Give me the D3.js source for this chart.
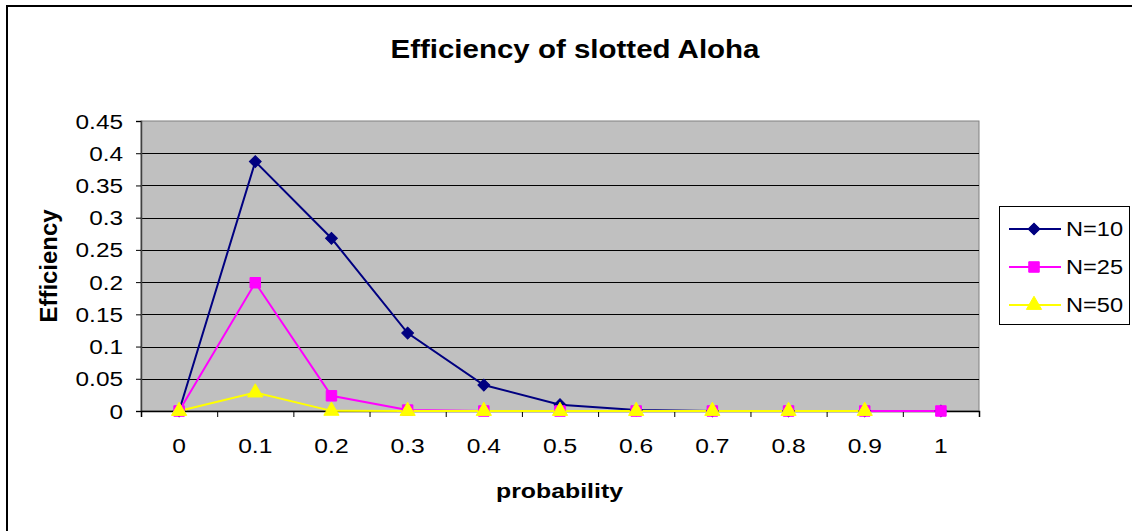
<!DOCTYPE html>
<html>
<head>
<meta charset="utf-8">
<script src="https://cdn.jsdelivr.net/npm/d3@7/dist/d3.min.js"></script>
<style>
  html, body { margin: 0; padding: 0; background: #fff; }
  svg { display: block; font-family: Arial, "Liberation Sans", sans-serif; }
</style>
</head>
<body>
<svg id="chart" width="1132" height="531"></svg>
<script>
// ---- data ----
const categories = ["0", "0.1", "0.2", "0.3", "0.4", "0.5", "0.6", "0.7", "0.8", "0.9", "1"];
const seriesNames = ["N=10", "N=25", "N=50"];
const n10 = [0, 0.387, 0.268, 0.121, 0.0403, 0.0098, 0.0016, 0.0001, 0, 0, 0];
const n25 = [0, 0.199, 0.0236, 0.0014, 0, 0, 0, 0, 0, 0, 0];
const n50 = [0, 0.0286, 0.0002, 0, 0, 0, 0, 0, 0, 0];
const yTicks = [0, 0.05, 0.1, 0.15, 0.2, 0.25, 0.3, 0.35, 0.4, 0.45];
const yTickLabels = ["0", "0.05", "0.1", "0.15", "0.2", "0.25", "0.3", "0.35", "0.4", "0.45"];
const titleText = "Efficiency of slotted Aloha";
const xTitle = "probability";
const yTitle = "Efficiency";

const seriesValues = [n10, n25, n50];
const colors = ["#000080", "#FF00FF", "#FFFF00"];
const symbols = [d3.symbolSquare, d3.symbolSquare, d3.symbolTriangle];
const symSizes = [70, 110, 100];
const symRot = [45, 0, 0];

const svg = d3.select("#chart");
const plot = { left: 141, top: 121, right: 979, bottom: 411 };

function stretch(sel, f) {
  sel.each(function () {
    const w = this.getComputedTextLength();
    d3.select(this).attr("textLength", w * f).attr("lengthAdjust", "spacingAndGlyphs");
  });
}

// outer border
svg.append("rect").attr("x", 7).attr("y", 6).attr("width", 1140).attr("height", 540)
  .attr("fill", "#fff").attr("stroke", "#000").attr("stroke-width", 2);

const x = d3.scaleBand().domain(categories).range([plot.left, plot.right]).paddingInner(0).paddingOuter(0);
const xIdx = d3.scaleLinear().domain([0, categories.length]).range([plot.left, plot.right]);
const y = d3.scaleLinear().domain([0, 0.45]).range([plot.bottom, plot.top]);

// plot area
svg.append("rect").attr("x", plot.left).attr("y", plot.top)
  .attr("width", plot.right - plot.left).attr("height", plot.bottom - plot.top)
  .attr("fill", "#C0C0C0").attr("stroke", "#808080").attr("stroke-width", 1);

// gridlines
svg.append("g").selectAll("line").data(yTicks.filter(d => d > 0 && d < 0.45)).join("line")
  .attr("x1", plot.left).attr("x2", plot.right)
  .attr("y1", d => Math.round(y(d)) + 0.5).attr("y2", d => Math.round(y(d)) + 0.5)
  .attr("stroke", "#000").attr("stroke-width", 1);

// y axis
const yAxis = d3.axisLeft(y).tickValues(yTicks).tickFormat((d, i) => yTickLabels[i]).tickSize(5).tickPadding(13);
const gy = svg.append("g").attr("transform", `translate(${plot.left},0)`).call(yAxis);
gy.select(".domain").attr("stroke", "#404040").attr("stroke-width", 1.5);
gy.selectAll(".tick line").attr("stroke", "#000");
gy.selectAll(".tick text").attr("font-size", 19.5).attr("fill", "#000")
  .attr("font-family", "Arial, 'Liberation Sans', sans-serif").attr("dy", "0.36em");
stretch(gy.selectAll(".tick text"), 1.25);

// x axis: labels centered in bands, ticks at band boundaries
const xAxis = d3.axisBottom(x).tickSize(0).tickPadding(27);
const gx = svg.append("g").attr("transform", `translate(0,${plot.bottom})`).call(xAxis);
gx.select(".domain").remove();
gx.selectAll(".tick text").attr("font-size", 20.5).attr("fill", "#000")
  .attr("font-family", "Arial, 'Liberation Sans', sans-serif");
stretch(gx.selectAll(".tick text"), 1.2);
const xTickAxis = d3.axisBottom(xIdx).tickValues(d3.range(categories.length + 1)).tickSize(6).tickFormat("");
const gx2 = svg.append("g").attr("transform", `translate(0,${plot.bottom})`).call(xTickAxis);
gx2.select(".domain").attr("stroke", "#000").attr("stroke-width", 1.5);
gx2.selectAll(".tick line").attr("stroke", "#000");

// series
const line = d3.line().x((d, i) => x(categories[i]) + x.bandwidth() / 2).y(d => y(d));
seriesValues.forEach((vals, s) => {
  svg.append("path").datum(vals).attr("d", line)
    .attr("fill", "none").attr("stroke", colors[s]).attr("stroke-width", 2);
});
seriesValues.forEach((vals, s) => {
  svg.append("g").selectAll("path").data(vals).join("path")
    .attr("d", d3.symbol().type(symbols[s]).size(symSizes[s]))
    .attr("transform", (d, i) => `translate(${x(categories[i]) + x.bandwidth() / 2},${y(d)}) rotate(${symRot[s]})`)
    .attr("fill", colors[s]).attr("stroke", colors[s]).attr("stroke-width", 1);
});

// title
svg.append("text").attr("x", 575).attr("y", 58).attr("text-anchor", "middle")
  .attr("font-size", 26).attr("font-weight", "bold").text(titleText)
  .attr("textLength", 369).attr("lengthAdjust", "spacingAndGlyphs");

// x title
svg.append("text").attr("x", 559.5).attr("y", 498).attr("text-anchor", "middle")
  .attr("font-size", 20).attr("font-weight", "bold").text(xTitle)
  .attr("textLength", 127).attr("lengthAdjust", "spacingAndGlyphs");

// y title
svg.append("text").attr("transform", "translate(57,266) rotate(-90)").attr("text-anchor", "middle")
  .attr("font-size", 24).attr("font-weight", "bold").text(yTitle)
  .attr("textLength", 113).attr("lengthAdjust", "spacingAndGlyphs");

// legend
const lg = svg.append("g");
lg.append("rect").attr("x", 999.5).attr("y", 206.5).attr("width", 130).attr("height", 118)
  .attr("fill", "#fff").attr("stroke", "#000").attr("stroke-width", 1);
seriesNames.forEach((name, s) => {
  const cy = 229 + s * 38;
  lg.append("line").attr("x1", 1009).attr("x2", 1061).attr("y1", cy).attr("y2", cy)
    .attr("stroke", colors[s]).attr("stroke-width", 2);
  lg.append("path").attr("d", d3.symbol().type(symbols[s]).size(symSizes[s]))
    .attr("transform", `translate(1034,${cy}) rotate(${symRot[s]})`).attr("fill", colors[s]).attr("stroke", colors[s]);
  const tx = lg.append("text").attr("x", 1066).attr("y", cy + 7).attr("font-size", 20).text(name);
  stretch(tx, 1.18);
});
</script>
</body>
</html>
